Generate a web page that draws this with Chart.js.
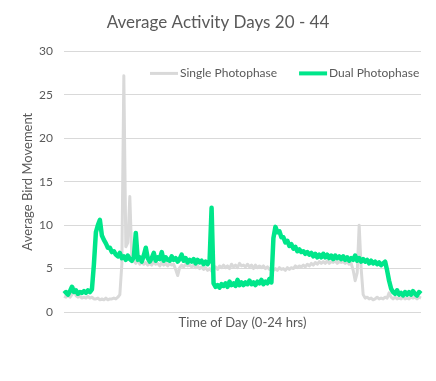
<!DOCTYPE html>
<html>
<head>
<meta charset="utf-8">
<script src="https://cdn.jsdelivr.net/npm/chart.js@4.4.1/dist/chart.umd.min.js"></script>
<style>
html,body{margin:0;padding:0;background:#fff;}
#wrap{width:436px;height:381px;}
</style>
</head>
<body>
<div id="wrap"><canvas id="c" width="436" height="381"></canvas></div>
<script>
// Values sampled roughly every 8 minutes across the 24h day (180 samples)
const singlePhotophase = [
1.8,1.7,1.9,1.7,2.0,2.8,1.9,1.7,1.8,1.6,
1.7,1.6,1.8,1.6,1.7,1.5,1.5,1.6,1.4,1.5,
1.4,1.6,1.4,1.5,1.5,1.6,1.5,1.7,2.0,5.5,
27.2,7.5,8.0,13.3,6.3,5.9,5.6,6.0,5.5,5.8,
5.5,5.7,5.4,5.6,5.4,5.8,5.5,5.6,5.3,5.7,
5.4,5.6,5.3,5.6,5.4,5.5,4.9,4.2,5.1,5.4,
5.2,5.5,5.3,5.4,5.2,5.4,5.1,5.3,5.0,5.2,
4.9,5.1,4.8,5.0,4.7,4.9,5.2,4.9,5.3,5.1,
5.4,5.1,5.3,5.0,5.5,5.2,5.4,5.1,5.6,5.3,
5.4,5.2,5.5,5.2,5.4,5.0,5.4,5.1,5.3,5.1,
5.3,5.0,5.2,4.9,5.1,4.8,5.0,4.8,5.1,4.9,
5.0,4.8,5.1,4.9,5.1,5.0,5.3,5.1,5.3,5.2,
5.4,5.2,5.5,5.3,5.6,5.4,5.7,5.5,5.8,5.6,
5.8,5.6,5.9,5.6,5.8,5.7,5.9,5.6,5.8,5.7,
5.8,5.6,5.8,5.5,5.6,4.8,3.6,4.5,10.0,5.0,
2.0,1.6,1.7,1.5,1.6,1.4,1.5,1.7,1.5,1.6,
1.5,1.7,1.6,2.2,1.7,1.5,1.7,1.5,1.6,1.5,
1.7,1.5,1.6,1.5,1.7,1.6,1.7,1.5,1.7,1.6
];
const dualPhotophase = [
2.1,2.3,2.0,2.4,2.9,2.3,2.5,2.1,2.3,2.2,
2.4,2.2,2.5,2.3,2.6,5.5,9.2,10.0,10.6,8.8,
8.3,7.9,7.4,7.4,6.9,7.0,6.6,6.4,6.8,6.2,
6.4,6.0,6.5,6.1,5.9,6.3,9.1,6.0,6.3,5.8,
6.5,7.4,6.2,5.8,6.2,6.8,5.9,6.3,6.1,6.9,
5.9,6.3,6.0,5.9,6.4,6.0,6.2,5.8,6.1,6.6,
5.9,6.2,5.7,6.0,5.8,6.1,5.6,6.0,5.7,5.9,
5.5,5.8,5.5,5.9,12.0,3.3,2.9,3.1,2.8,3.2,
3.0,3.3,2.9,3.5,3.1,3.3,3.0,3.7,3.1,3.4,
3.1,3.4,3.2,3.6,3.2,3.4,3.1,3.5,3.3,3.7,
3.2,3.5,3.3,3.8,3.4,8.5,9.8,9.2,9.3,8.6,
8.6,8.0,8.2,7.6,7.8,7.3,7.5,7.0,7.2,6.9,
7.0,6.7,6.9,6.6,6.8,6.4,6.7,6.3,6.6,6.3,
6.7,6.3,6.6,6.2,6.5,6.1,6.5,6.2,6.4,6.1,
6.4,6.0,6.3,5.9,6.2,6.0,6.5,5.9,6.2,5.8,
6.1,5.8,6.0,5.6,5.9,5.6,5.8,5.5,5.7,5.4,
5.6,5.8,4.8,3.6,2.7,2.3,2.1,2.5,2.0,2.2,
1.9,2.3,2.0,2.3,2.0,2.4,2.1,1.9,2.3,2.1
];
const yTicks = [0,5,10,15,20,25,30];
const timeLabels = singlePhotophase.map((_, i) => {
  const m = i * 8; return Math.floor(m/60) + ':' + String(m%60).padStart(2,'0');
});

const FONT = 'Lato, "Open Sans", sans-serif';
const GREY = '#595959';

// Legend drawn inside the plot area, top-right, like the original
const insideLegend = {
  id: 'insideLegend',
  afterDraw(chart) {
    const ctx = chart.ctx;
    const ca = chart.chartArea;
    const y = ca.top + 22;
    ctx.save();
    ctx.font = '12px ' + FONT;
    ctx.textBaseline = 'middle';
    ctx.textAlign = 'left';
    let x = ca.left + 86;
    chart.data.datasets.forEach((ds, i) => {
      ctx.strokeStyle = ds.borderColor;
      ctx.lineWidth = i === 0 ? 3 : 4;
      ctx.beginPath(); ctx.moveTo(x, y); ctx.lineTo(x + 28, y); ctx.stroke();
      ctx.fillStyle = GREY;
      ctx.fillText(ds.label, x + 30, y);
      x += 30 + ctx.measureText(ds.label).width + 22;
    });
    ctx.restore();
  }
};

new Chart(document.getElementById('c'), {
  type: 'line',
  data: {
    labels: timeLabels,
    datasets: [
      { label: 'Single Photophase', data: singlePhotophase, borderColor: '#d9d9d9', backgroundColor: '#d9d9d9',
        borderWidth: 3, pointRadius: 0, tension: 0, order: 1, borderJoinStyle: 'round' },
      { label: 'Dual Photophase', data: dualPhotophase, borderColor: '#00e68a', backgroundColor: '#00e68a',
        borderWidth: 4.5, pointRadius: 0, tension: 0, order: 0, borderJoinStyle: 'round' }
    ]
  },
  options: {
    responsive: false,
    animation: false,
    devicePixelRatio: 1,
    layout: { padding: { left: 15, right: 15, top: 0, bottom: 45 } },
    plugins: {
      title: { display: true, text: 'Average Activity Days 20 - 44', color: GREY,
        font: { family: FONT, size: 17, weight: 'normal' }, padding: { top: 12, bottom: 19 } },
      legend: { display: false },
      tooltip: { enabled: false }
    },
    scales: {
      x: {
        offset: false,
        grid: { display: false },
        border: { display: false },
        ticks: { display: false },
        title: { display: true, text: 'Time of Day (0-24 hrs)', color: GREY,
          font: { family: FONT, size: 13 }, padding: { top: 0, bottom: 5 } },
        afterFit: s => { s.height = 24; }
      },
      y: {
        min: 0, max: 30,
        afterBuildTicks: s => { s.ticks = yTicks.map(v => ({ value: v })); },
        grid: { color: '#d9d9d9', drawTicks: false },
        border: { display: false },
        ticks: { color: GREY, font: { family: FONT, size: 12 }, padding: 11 },
        title: { display: true, text: 'Average Bird Movement', color: GREY,
          font: { family: FONT, size: 13 }, padding: { top: 5, bottom: 0 } },
        afterFit: s => { s.width = 49; }
      }
    }
  },
  plugins: [insideLegend]
});
</script>
</body>
</html>
